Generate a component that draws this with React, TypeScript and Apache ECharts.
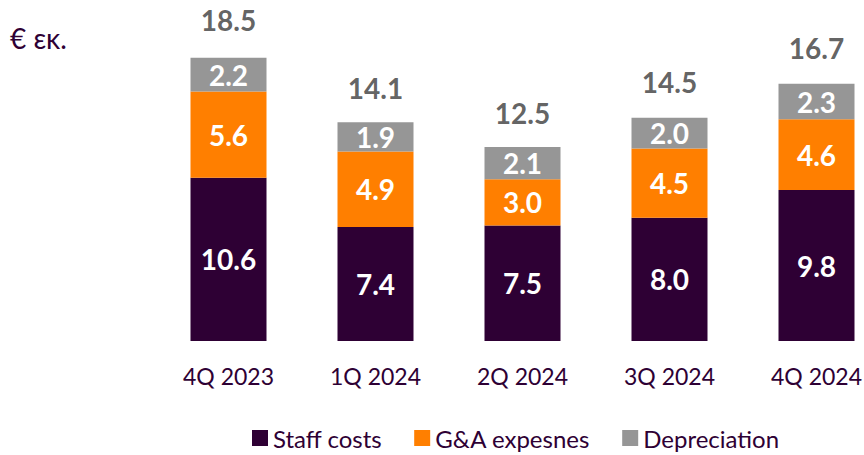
import React, { useEffect, useRef } from "react";
import * as echarts from "echarts";

const categories = ["4Q 2023", "1Q 2024", "2Q 2024", "3Q 2024", "4Q 2024"];
const staffCosts = [10.6, 7.4, 7.5, 8.0, 9.8];
const gaExpenses = [5.6, 4.9, 3.0, 4.5, 4.6];
const depreciation = [2.2, 1.9, 2.1, 2.0, 2.3];
const totals = [18.5, 14.1, 12.5, 14.5, 16.7];

const PURPLE = "#2E0034";
const ORANGE = "#FF7F00";
const GRAY = "#969696";
const FONT = "Lato";

export default function App() {
  const ref = useRef<HTMLDivElement>(null);
  useEffect(() => {
    if (!ref.current) return;
    document.body.style.margin = "0";
    const chart = echarts.init(ref.current, null, { renderer: "svg" });
    const inside = {
      show: true,
      position: "inside",
      color: "#FFFFFF",
      fontWeight: "bold",
      fontSize: 28,
      fontFamily: FONT,
      formatter: (p: any) => Number(p.value).toFixed(1),
    };
    chart.setOption({
      animation: false,
      backgroundColor: "#FFFFFF",
      textStyle: { fontFamily: FONT },
      graphic: [
        {
          type: "text",
          left: 10,
          top: 24,
          style: { text: "€ εκ.", fill: PURPLE, font: `28px ${FONT}` },
        },
      ],
      legend: {
        left: 247,
        top: 421,
        itemWidth: 16,
        itemHeight: 16,
        itemGap: 32,
        icon: "rect",
        data: ["Staff costs", "G&A expesnes", "Depreciation"],
        textStyle: { color: PURPLE, fontSize: 24, fontFamily: FONT },
      },
      grid: { left: 155, width: 735, top: 33, bottom: 114 },
      xAxis: {
        type: "category",
        data: categories,
        axisLine: { show: false },
        axisTick: { show: false },
        axisLabel: { color: PURPLE, fontSize: 23, fontFamily: FONT, margin: 23 },
      },
      yAxis: { type: "value", min: 0, max: 20, show: false, splitLine: { show: false } },
      series: [
        {
          name: "Staff costs",
          type: "bar",
          stack: "a",
          barWidth: 76,
          data: staffCosts,
          itemStyle: { color: PURPLE },
          label: inside,
        },
        {
          name: "G&A expesnes",
          type: "bar",
          stack: "a",
          barWidth: 76,
          data: gaExpenses,
          itemStyle: { color: ORANGE },
          label: inside,
        },
        {
          name: "Depreciation",
          type: "bar",
          stack: "a",
          barWidth: 76,
          data: depreciation,
          itemStyle: { color: GRAY },
          label: inside,
        },
        {
          name: "Total",
          type: "scatter",
          data: totals,
          symbolSize: 0,
          silent: true,
          label: {
            show: true,
            position: "top",
            distance: 22,
            color: "#3A3A3A",
            fontWeight: "bold",
            fontSize: 28,
            fontFamily: FONT,
            formatter: (p: any) => Number(p.value).toFixed(1),
          },
        },
      ],
    });
    return () => chart.dispose();
  }, []);
  return (
    <div style={{ width: 864, height: 455, overflow: "hidden", position: "relative" }}>
      <div ref={ref} style={{ width: 900, height: 455 }} />
    </div>
  );
}
